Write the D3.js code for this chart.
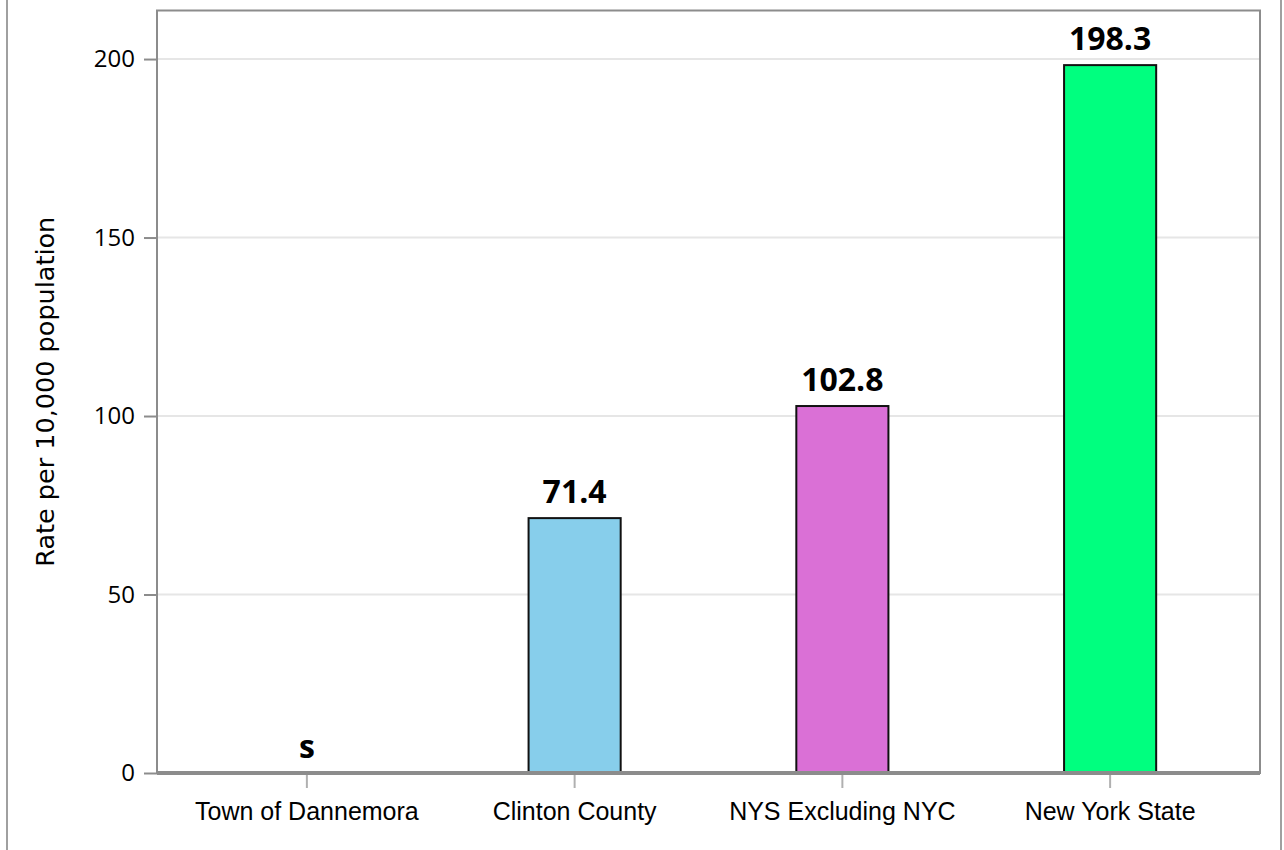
<!DOCTYPE html>
<html>
<head>
<meta charset="utf-8">
<script src="https://cdn.jsdelivr.net/npm/d3@7"></script>
<style>
  body { margin: 0; background: #fff; }
  svg { display: block; }
</style>
</head>
<body>
<script>
// data
var categories = ["Town of Dannemora", "Clinton County", "NYS Excluding NYC", "New York State"];
var rates = [null, 71.4, 102.8, 198.3];      // null = suppressed
var valueLabels = ["s", "71.4", "102.8", "198.3"];
var barColors = ["#87ceeb", "#87ceeb", "#da70d6", "#00ff7f"];
var yTicks = [0, 50, 100, 150, 200];
var yTitle = "Rate per 10,000 population";

var W = 1284, H = 850;
var plot = {left: 157, top: 10.5, right: 1260, bottom: 773};
var yMax = 213.6;

var svg = d3.select("body").append("svg")
  .attr("width", W)
  .attr("height", H);

// outer frame
svg.append("rect")
  .attr("x", 7).attr("y", -3)
  .attr("width", 1274).attr("height", H + 6)
  .attr("fill", "none")
  .attr("stroke", "#a0a0a0")
  .attr("stroke-width", 2);

var x = d3.scaleBand()
  .domain(categories)
  .range([173, 1244])
  .paddingInner(0.656)
  .paddingOuter(0.328);

var y = d3.scaleLinear()
  .domain([0, yMax])
  .range([plot.bottom, plot.top]);

// gridlines
svg.append("g")
  .selectAll("line")
  .data(yTicks.filter(function(d) { return d > 0; }))
  .enter().append("line")
  .attr("x1", plot.left).attr("x2", plot.right)
  .attr("y1", function(d) { return y(d); })
  .attr("y2", function(d) { return y(d); })
  .attr("stroke", "#e6e6e6")
  .attr("stroke-width", 2);

// plot frame
svg.append("rect")
  .attr("x", plot.left).attr("y", plot.top)
  .attr("width", plot.right - plot.left)
  .attr("height", plot.bottom - plot.top)
  .attr("fill", "none")
  .attr("stroke", "#8c8c8c")
  .attr("stroke-width", 2);

// bars
var barData = categories.map(function(c, i) {
  return {cat: c, value: rates[i], label: valueLabels[i], color: barColors[i]};
});

svg.append("g")
  .selectAll("rect")
  .data(barData.filter(function(d) { return d.value != null; }))
  .enter().append("rect")
  .attr("x", function(d) { return x(d.cat); })
  .attr("width", x.bandwidth())
  .attr("y", function(d) { return y(d.value); })
  .attr("height", function(d) { return y(0) - y(d.value); })
  .attr("fill", function(d) { return d.color; })
  .attr("stroke", "#111")
  .attr("stroke-width", 2);

// value labels
svg.append("g")
  .selectAll("text")
  .data(barData)
  .enter().append("text")
  .attr("x", function(d) { return x(d.cat) + x.bandwidth() / 2; })
  .attr("y", function(d) { return y(d.value == null ? 0 : d.value) - 15; })
  .attr("text-anchor", "middle")
  .attr("font-family", "'Open Sans', sans-serif")
  .attr("font-weight", "bold")
  .attr("font-size", 32)
  .attr("fill", "#000")
  .text(function(d) { return d.label; });

// y axis
var yAxis = d3.axisLeft(y)
  .tickValues(yTicks)
  .tickSize(13)
  .tickPadding(9);

var gy = svg.append("g")
  .attr("transform", "translate(" + plot.left + ",0)")
  .call(yAxis);
gy.select(".domain").remove();
gy.selectAll(".tick line").attr("stroke", "#8c8c8c").attr("stroke-width", 2);
gy.selectAll(".tick text")
  .attr("font-family", "'Open Sans', sans-serif")
  .attr("font-size", 24)
  .attr("fill", "#000");

// x axis
var xAxis = d3.axisBottom(x)
  .tickSize(13)
  .tickPadding(14);

var gx = svg.append("g")
  .attr("transform", "translate(0," + (plot.bottom + 2) + ")")
  .call(xAxis);
gx.select(".domain").remove();
gx.selectAll(".tick line").attr("stroke", "#b0b0b0").attr("stroke-width", 2);
gx.selectAll(".tick text")
  .attr("font-family", "'Liberation Sans', Arial, sans-serif")
  .attr("font-size", 25)
  .attr("fill", "#000");

// thick baseline
svg.append("line")
  .attr("x1", plot.left).attr("x2", plot.right)
  .attr("y1", y(0)).attr("y2", y(0))
  .attr("stroke", "#8c8c8c")
  .attr("stroke-width", 4);

// y title
svg.append("text")
  .attr("transform", "translate(54," + ((plot.top + plot.bottom) / 2) + ") rotate(-90)")
  .attr("text-anchor", "middle")
  .attr("font-family", "'DejaVu Sans', sans-serif")
  .attr("font-size", 25.5)
  .attr("fill", "#000")
  .text(yTitle);
</script>
</body>
</html>
